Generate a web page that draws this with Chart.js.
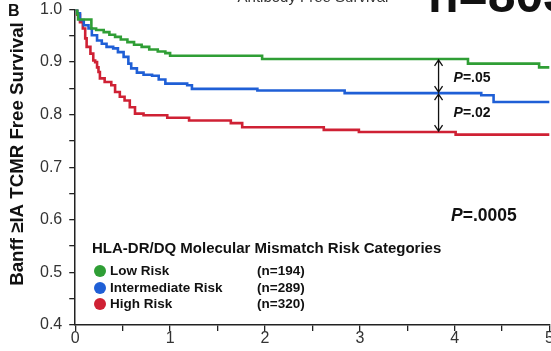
<!DOCTYPE html>
<html lang="en">
<head>
<meta charset="UTF-8" />
<title>Banff TCMR Free Survival</title>
<script src="https://cdn.jsdelivr.net/npm/chart.js"></script>
<style>
  html, body { margin: 0; padding: 0; background: #fff; overflow: hidden; }
  #wrap { position: relative; width: 554px; height: 351px; }
</style>
</head>
<body>
<div id="wrap"><canvas id="kmChart"></canvas></div>
<script>
// Kaplan-Meier steps (years, survival)
const lowTime = [0, 0.02, 0.03, 0.17, 0.22, 0.30, 0.36, 0.42, 0.48, 0.55, 0.62, 0.70, 0.78, 0.87, 0.95, 1.00, 1.97, 4.14, 4.89, 5.0];
const lowSurv = [1.0, 0.992, 0.981, 0.964, 0.961, 0.957, 0.952, 0.948, 0.943, 0.938, 0.933, 0.929, 0.924, 0.920, 0.917, 0.912, 0.906, 0.897, 0.890, 0.890];

const midTime = [0, 0.02, 0.05, 0.09, 0.14, 0.175, 0.23, 0.28, 0.33, 0.40, 0.45, 0.51, 0.56, 0.59, 0.65, 0.72, 0.81, 0.88, 0.95, 1.18, 1.23, 1.92, 2.84, 4.28, 4.41, 5.0];
const midSurv = [1.0, 0.993, 0.980, 0.970, 0.964, 0.951, 0.941, 0.935, 0.929, 0.926, 0.919, 0.910, 0.897, 0.888, 0.880, 0.876, 0.874, 0.867, 0.859, 0.856, 0.849, 0.846, 0.841, 0.837, 0.824, 0.824];

const highTime = [0, 0.02, 0.05, 0.08, 0.105, 0.12, 0.16, 0.19, 0.21, 0.23, 0.245, 0.26, 0.31, 0.38, 0.42, 0.47, 0.52, 0.575, 0.63, 0.72, 0.97, 1.2, 1.64, 1.76, 2.62, 2.99, 4.01, 5.0];
const highSurv = [1.0, 0.990, 0.976, 0.964, 0.945, 0.929, 0.916, 0.903, 0.900, 0.890, 0.881, 0.869, 0.862, 0.856, 0.843, 0.834, 0.827, 0.814, 0.802, 0.799, 0.794, 0.789, 0.784, 0.776, 0.771, 0.767, 0.762, 0.762];

const groupNames = ['Low Risk', 'Intermediate Risk', 'High Risk'];
const groupCounts = [194, 289, 320];
const groupColors = ['#2f9e35', '#1f5fd6', '#cf2134'];
const pairP = ['.05', '.02'];
const overallP = '.0005';
const arrowTime = 3.83;
const yTitle = 'Banff \u2265IA TCMR Free Survival';
const legendTitle = 'HLA-DR/DQ Molecular Mismatch Risk Categories';

const FONT = '"Liberation Sans", Arial, Helvetica, sans-serif';

function toPoints(t, s) {
  return t.map((x, i) => ({ x: x, y: s[i] }));
}

function valueAt(t, s, x) {
  let v = s[0];
  for (let i = 0; i < t.length; i++) {
    if (t[i] <= x) v = s[i];
  }
  return v;
}

function drawPText(ctx, x, y, rest, size) {
  ctx.textBaseline = 'middle';
  ctx.textAlign = 'left';
  ctx.font = 'italic bold ' + size + 'px ' + FONT;
  ctx.fillText('P', x, y);
  const w = ctx.measureText('P').width;
  ctx.font = 'bold ' + size + 'px ' + FONT;
  ctx.fillText('=' + rest, x + w, y);
}

function drawArrow(ctx, x, y1, y2) {
  const h = 4, len = 6;
  ctx.beginPath();
  ctx.moveTo(x, y1);
  ctx.lineTo(x, y2);
  ctx.moveTo(x - h, y1 + len);
  ctx.lineTo(x, y1);
  ctx.lineTo(x + h, y1 + len);
  ctx.moveTo(x - h, y2 - len);
  ctx.lineTo(x, y2);
  ctx.lineTo(x + h, y2 - len);
  ctx.stroke();
}

const extras = {
  id: 'extras',
  afterDraw(chart) {
    const ctx = chart.ctx;
    const xs = chart.scales.x, ys = chart.scales.y;
    ctx.save();

    // texts cut off by the top edge
    ctx.textBaseline = 'alphabetic';
    ctx.textAlign = 'center';
    ctx.font = '15px ' + FONT;
    ctx.fillStyle = '#333';
    ctx.fillText('Antibody Free Survival', 313, 2);
    ctx.textAlign = 'left';
    ctx.fillStyle = '#111';
    ctx.font = 'bold 50px ' + FONT;
    ctx.fillText('n=803', 428, 12);

    ctx.font = 'bold 16px ' + FONT;
    ctx.fillText('B', 8, 16);

    // y axis title
    ctx.save();
    ctx.translate(18, 154);
    ctx.rotate(-Math.PI / 2);
    ctx.textAlign = 'center';
    ctx.textBaseline = 'middle';
    ctx.font = 'bold 18.7px ' + FONT;
    ctx.fillText(yTitle, 0, 0);
    ctx.restore();

    // comparison arrows
    const ax = xs.getPixelForValue(arrowTime);
    const yLow = ys.getPixelForValue(valueAt(lowTime, lowSurv, arrowTime));
    const yMid = ys.getPixelForValue(valueAt(midTime, midSurv, arrowTime));
    const yHigh = ys.getPixelForValue(valueAt(highTime, highSurv, arrowTime));
    ctx.strokeStyle = '#111';
    ctx.lineWidth = 1.3;
    drawArrow(ctx, ax, yLow + 1, yMid - 1);
    drawArrow(ctx, ax, yMid + 1, yHigh - 1);
    drawPText(ctx, ax + 15, (yLow + yMid) / 2 + 2, pairP[0], 14);
    drawPText(ctx, ax + 15, (yMid + yHigh) / 2 + 1, pairP[1], 14);

    drawPText(ctx, 451, 216, overallP, 17.5);

    // legend
    ctx.textBaseline = 'middle';
    ctx.textAlign = 'left';
    ctx.font = 'bold 15px ' + FONT;
    ctx.fillText(legendTitle, 92, 249);
    const rows = [271, 288, 304];
    groupNames.forEach((name, i) => {
      ctx.fillStyle = groupColors[i];
      ctx.beginPath();
      ctx.arc(100, rows[i], 6, 0, Math.PI * 2);
      ctx.fill();
      ctx.fillStyle = '#111';
      ctx.font = 'bold 13.5px ' + FONT;
      ctx.fillText(name, 110, rows[i]);
      ctx.fillText('(n=' + groupCounts[i] + ')', 257, rows[i]);
    });
    ctx.restore();
  }
};

const lineStyle = {
  stepped: 'before',
  pointRadius: 0,
  borderWidth: 2.6,
  fill: false
};

new Chart(document.getElementById('kmChart'), {
  type: 'line',
  data: {
    datasets: [
      Object.assign({ label: groupNames[0], data: toPoints(lowTime, lowSurv), borderColor: groupColors[0] }, lineStyle),
      Object.assign({ label: groupNames[1], data: toPoints(midTime, midSurv), borderColor: groupColors[1] }, lineStyle),
      Object.assign({ label: groupNames[2], data: toPoints(highTime, highSurv), borderColor: groupColors[2] }, lineStyle)
    ]
  },
  options: {
    responsive: true,
    maintainAspectRatio: false,
    animation: false,
    layout: { padding: { left: 33, top: 0, right: 0, bottom: 4 } },
    plugins: { legend: { display: false }, tooltip: { enabled: false } },
    scales: {
      x: {
        type: 'linear',
        min: 0,
        max: 5,
        border: { color: '#222', width: 1.5 },
        grid: { drawOnChartArea: false, drawTicks: true, tickLength: 6, color: '#222', lineWidth: 1.3 },
        ticks: {
          stepSize: 0.5,
          padding: 0,
          maxRotation: 0,
          autoSkip: false,
          color: '#333',
          font: { family: FONT, size: 16, lineHeight: 1.0 },
          callback: v => Math.abs(v - Math.round(v)) < 1e-6 ? String(Math.round(v)) : ''
        }
      },
      y: {
        min: 0.4,
        max: 1.0,
        border: { color: '#222', width: 1.5 },
        grid: { drawOnChartArea: false, drawTicks: true, tickLength: 6, color: '#222', lineWidth: 1.3 },
        afterFit: s => { s.paddingTop = 9.5; },
        ticks: {
          stepSize: 0.05,
          padding: 7,
          autoSkip: false,
          color: '#333',
          font: { family: FONT, size: 16 },
          callback: v => Math.abs(v * 10 - Math.round(v * 10)) < 1e-6 ? v.toFixed(1) : ''
        }
      }
    }
  },
  plugins: [extras]
});
</script>
</body>
</html>
